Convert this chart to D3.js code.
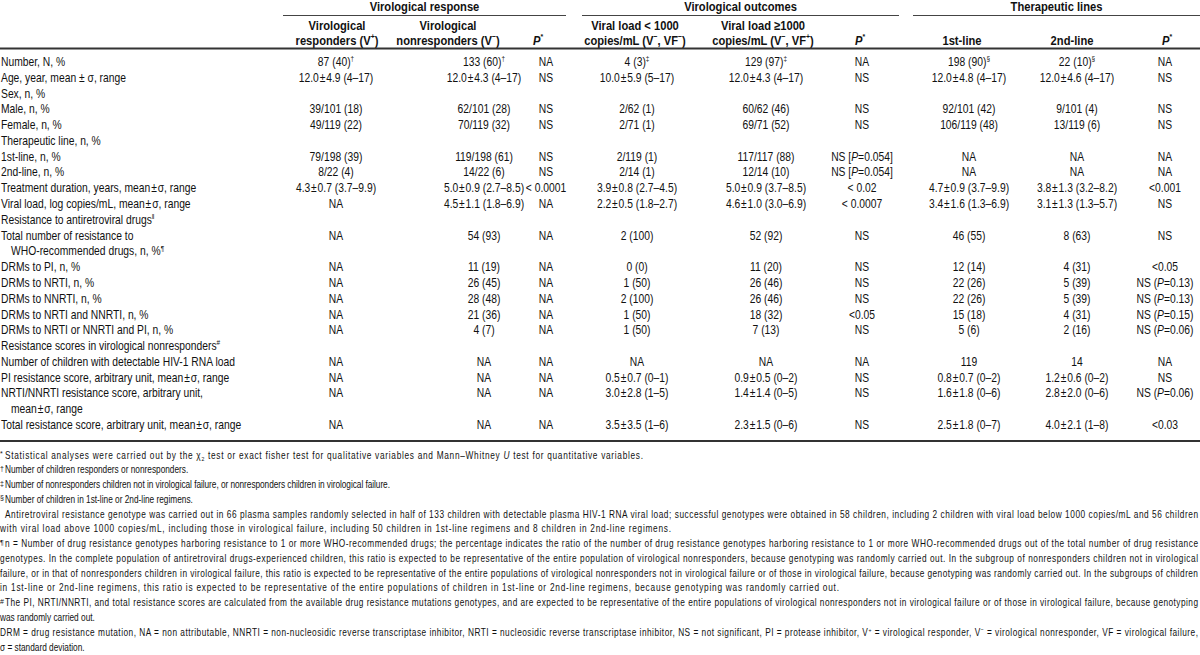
<!DOCTYPE html>
<html>
<head>
<meta charset="utf-8">
<script src="https://cdnjs.cloudflare.com/ajax/libs/d3/7.8.5/d3.min.js"></script>
<style>
body { margin: 0; background: #fff; }
svg { display: block; font-family: 'Liberation Sans', Arial, sans-serif; }
</style>
</head>
<body>
<div id="tbl"></div>
<script>
// table values (null = section heading row)
var rowLabels = [
    'Number, N, %',
    'Age, year, mean ± σ, range',
    'Sex, n, %',
    'Male, n, %',
    'Female, n, %',
    'Therapeutic line, n, %',
    '1st-line, n, %',
    '2nd-line, n, %',
    'Treatment duration, years, mean±σ, range',
    'Viral load, log copies/mL, mean±σ, range',
    'Resistance to antiretroviral drugs^(‖)',
    'Total number of resistance to\nWHO-recommended drugs, n, %^(¶)',
    'DRMs to PI, n, %',
    'DRMs to NRTI, n, %',
    'DRMs to NNRTI, n, %',
    'DRMs to NRTI and NNRTI, n, %',
    'DRMs to NRTI or NNRTI and PI, n, %',
    'Resistance scores in virological nonresponders^(#)',
    'Number of children with detectable HIV-1 RNA load',
    'PI resistance score, arbitrary unit, mean±σ, range',
    'NRTI/NNRTI resistance score, arbitrary unit,\nmean±σ, range',
    'Total resistance score, arbitrary unit, mean±σ, range'];

var respondersV = ['87 (40)^(†)', '12.0±4.9 (4–17)', null, '39/101 (18)', '49/119 (22)', null,
    '79/198 (39)', '8/22 (4)', '4.3±0.7 (3.7–9.9)', 'NA', null, 'NA',
    'NA', 'NA', 'NA', 'NA', 'NA', null, 'NA', 'NA', 'NA', 'NA'];
var nonrespondersV = ['133 (60)^(†)', '12.0±4.3 (4–17)', null, '62/101 (28)', '70/119 (32)', null,
    '119/198 (61)', '14/22 (6)', '5.0±0.9 (2.7–8.5)', '4.5±1.1 (1.8–6.9)', null, '54 (93)',
    '11 (19)', '26 (45)', '28 (48)', '21 (36)', '4 (7)', null, 'NA', 'NA', 'NA', 'NA'];
var pResponse = ['NA', 'NS', null, 'NS', 'NS', null,
    'NS', 'NS', '< 0.0001', 'NA', null, 'NA',
    'NA', 'NA', 'NA', 'NA', 'NA', null, 'NA', 'NA', 'NA', 'NA'];
var vlBelow = ['4 (3)^(‡)', '10.0±5.9 (5–17)', null, '2/62 (1)', '2/71 (1)', null,
    '2/119 (1)', '2/14 (1)', '3.9±0.8 (2.7–4.5)', '2.2±0.5 (1.8–2.7)', null, '2 (100)',
    '0 (0)', '1 (50)', '2 (100)', '1 (50)', '1 (50)', null, 'NA', '0.5±0.7 (0–1)', '3.0±2.8 (1–5)', '3.5±3.5 (1–6)'];
var vlAbove = ['129 (97)^(‡)', '12.0±4.3 (4–17)', null, '60/62 (46)', '69/71 (52)', null,
    '117/117 (88)', '12/14 (10)', '5.0±0.9 (3.7–8.5)', '4.6±1.0 (3.0–6.9)', null, '52 (92)',
    '11 (20)', '26 (46)', '26 (46)', '18 (32)', '7 (13)', null, 'NA', '0.9±0.5 (0–2)', '1.4±1.4 (0–5)', '2.3±1.5 (0–6)'];
var pOutcome = ['NA', 'NS', null, 'NS', 'NS', null,
    'NS [~(P)=0.054]', 'NS [~(P)=0.054]', '< 0.02', '< 0.0007', null, 'NS',
    'NS', 'NS', 'NS', '<0.05', 'NS', null, 'NA', 'NS', 'NS', 'NS'];
var firstLine = ['198 (90)^(§)', '12.0±4.8 (4–17)', null, '92/101 (42)', '106/119 (48)', null,
    'NA', 'NA', '4.7±0.9 (3.7–9.9)', '3.4±1.6 (1.3–6.9)', null, '46 (55)',
    '12 (14)', '22 (26)', '22 (26)', '15 (18)', '5 (6)', null, '119', '0.8±0.7 (0–2)', '1.6±1.8 (0–6)', '2.5±1.8 (0–7)'];
var secondLine = ['22 (10)^(§)', '12.0±4.6 (4–17)', null, '9/101 (4)', '13/119 (6)', null,
    'NA', 'NA', '3.8±1.3 (3.2–8.2)', '3.1±1.3 (1.3–5.7)', null, '8 (63)',
    '4 (31)', '5 (39)', '5 (39)', '4 (31)', '2 (16)', null, '14', '1.2±0.6 (0–2)', '2.8±2.0 (0–6)', '4.0±2.1 (1–8)'];
var pLines = ['NA', 'NS', null, 'NS', 'NS', null,
    'NA', 'NA', '<0.001', 'NS', null, 'NS',
    '<0.05', 'NS (~(P)=0.13)', 'NS (~(P)=0.13)', 'NS (~(P)=0.15)', 'NS (~(P)=0.06)', null, 'NA', 'NS', 'NS (~(P)=0.06)', '<0.03'];

var groupTitles = ['Virological response', 'Virological outcomes', 'Therapeutic lines'];
var colHeads = [
    ['Virological', 'responders (V^(+))'],
    ['Virological', 'nonresponders (V^(−))'],
    ['', '~(P)^(*)'],
    ['Viral load < 1000', 'copies/mL (V^(−), VF^(−))'],
    ['Viral load ≥1000', 'copies/mL (V^(−), VF^(+))'],
    ['', '~(P)^(*)'],
    ['', '1st-line'],
    ['', '2nd-line'],
    ['', '~(P)^(*)']];

// footnotes: mark null = continuation of the line before
var noteMarks = ['*', '†', '‡', '§', ' ', null, '¶', null, null, null, '#', null, '', null];
var noteLines = [
    'Statistical analyses were carried out by the χ_(2) test or exact fisher test for qualitative variables and Mann–Whitney ~(U) test for quantitative variables.',
    'Number of children responders or nonresponders.',
    'Number of nonresponders children not in virological failure, or nonresponders children in virological failure.',
    'Number of children in 1st-line or 2nd-line regimens.',
    'Antiretroviral resistance genotype was carried out in 66 plasma samples randomly selected in half of 133 children with detectable plasma HIV-1 RNA viral load; successful genotypes were obtained in 58 children, including 2 children with viral load below 1000 copies/mL and 56 children',
    'with viral load above 1000 copies/mL, including those in virological failure, including 50 children in 1st-line regimens and 8 children in 2nd-line regimens.',
    'n = Number of drug resistance genotypes harboring resistance to 1 or more WHO-recommended drugs; the percentage indicates the ratio of the number of drug resistance genotypes harboring resistance to 1 or more WHO-recommended drugs out of the total number of drug resistance',
    'genotypes. In the complete population of antiretroviral drugs-experienced children, this ratio is expected to be representative of the entire population of virological nonresponders, because genotyping was randomly carried out. In the subgroup of nonresponders children not in virological',
    'failure, or in that of nonresponders children in virological failure, this ratio is expected to be representative of the entire populations of virological nonresponders not in virological failure or of those in virological failure, because genotyping was randomly carried out. In the subgroups of children',
    'in 1st-line or 2nd-line regimens, this ratio is expected to be representative of the entire populations of children in 1st-line or 2nd-line regimens, because genotyping was randomly carried out.',
    'The PI, NRTI/NNRTI, and total resistance scores are calculated from the available drug resistance mutations genotypes, and are expected to be representative of the entire populations of virological nonresponders not in virological failure or of those in virological failure, because genotyping',
    'was randomly carried out.',
    'DRM = drug resistance mutation, NA = non attributable, NNRTI = non-nucleosidic reverse transcriptase inhibitor, NRTI = nucleosidic reverse transcriptase inhibitor, NS = not significant, PI = protease inhibitor, V^(+) = virological responder, V^(−) = virological nonresponder, VF = virological failure,',
    'σ = standard deviation.'];

var W = 1200, H = 655;
var kBody = 0.86;   // squeeze, the source uses a condensed face
var kNote = 0.83;
var ink = '#111';
// right edge of each footnote line as set in the source (null = natural width)
var noteEnds = [643, null, 390, null, 1198, 671, 1198, 1198, 1198, 839, 1198, null, 1198, null];

var svg = d3.select('#tbl').append('svg')
    .attr('width', W).attr('height', H);

// write a string with ^(sup) _(sub) ~(italic) pieces
function rich(t, str, size) {
    var re = /([\^~_])\(([^)]*)\)/g, pos = 0, cur = 0, m;
    function add(s, off, kind) {
        if (!s) return;
        var sp = t.append('tspan').text(s).attr('dy', off - cur);
        cur = off;
        if (kind === '^' || kind === '_') sp.attr('font-size', size * 0.62);
        if (kind === '~') sp.attr('font-style', 'italic');
    }
    while ((m = re.exec(str))) {
        add(str.slice(pos, m.index), 0);
        var off = m[1] === '^' ? -size * 0.4 : (m[1] === '_' ? size * 0.25 : 0);
        add(m[2], off, m[1]);
        pos = re.lastIndex;
    }
    add(str.slice(pos), 0);
}

function put(x, y, str, opt) {
    opt = opt || {};
    var size = opt.size || 12, k = opt.k || kBody;
    var t = svg.append('text')
        .attr('transform', 'translate(' + x + ',' + y + ') scale(' + k + ',1)')
        .attr('text-anchor', opt.anchor || 'start')
        .attr('font-size', size)
        .attr('font-weight', opt.bold ? 'bold' : null)
        .attr('fill', ink);
    rich(t, str.replace(/(\S)±(\S)/g, '$1\u200a±\u200a$2'), size);
    if (opt.width) t.attr('textLength', opt.width / k).attr('lengthAdjust', 'spacing');
    return t;
}

var colKeys = ['vpos', 'vneg', 'p1', 'vl1', 'vl2', 'p2', 'l1', 'l2', 'p3'];
var cols = [respondersV, nonrespondersV, pResponse, vlBelow, vlAbove, pOutcome, firstLine, secondLine, pLines];
var x = d3.scaleOrdinal().domain(colKeys).range([336, 484, 546, 637, 766, 862, 969, 1077, 1165]);
var xHead = d3.scaleOrdinal().domain(colKeys).range([337, 448, 538, 635, 763, 860, 962, 1072, 1167]);

var lineStart = [], nLines = 0;
rowLabels.forEach(function(l) { lineStart.push(nLines); nLines += l.split('\n').length; });
var y = d3.scaleLinear().domain([0, nLines - 1]).range([62, 425]);

// header
var groupSpan = d3.scaleOrdinal().domain(groupTitles).range([[283, 566], [582, 899], [913, 1200]]);
groupTitles.forEach(function(g) {
    var s = groupSpan(g);
    put((s[0] + s[1]) / 2, 10.5, g, {bold: true, size: 13, anchor: 'middle'});
    svg.append('line').attr('x1', s[0]).attr('x2', s[1]).attr('y1', 15.5).attr('y2', 15.5)
        .attr('stroke', '#444').attr('stroke-width', 1.2);
});
colHeads.forEach(function(h, i) {
    h.forEach(function(line, j) {
        if (line) put(xHead(colKeys[i]), 29.5 + j * 15, line, {bold: true, size: 13, anchor: 'middle'});
    });
});
svg.append('line').attr('x1', 0).attr('x2', W).attr('y1', 48.5).attr('y2', 48.5)
    .attr('stroke', '#333').attr('stroke-width', 2);

// body
rowLabels.forEach(function(label, r) {
    label.split('\n').forEach(function(part, j) {
        put(j ? 11 : 1, y(lineStart[r] + j) + 4, part);
    });
    cols.forEach(function(c, ci) {
        if (c[r] != null) put(x(colKeys[ci]), y(lineStart[r]) + 4, c[r], {anchor: 'middle'});
    });
});
svg.append('line').attr('x1', 0).attr('x2', W).attr('y1', 441).attr('y2', 441)
    .attr('stroke', '#333').attr('stroke-width', 2);

// footnotes
var fy = d3.scaleLinear().domain([0, noteLines.length - 1]).range([455, 647]);
noteLines.forEach(function(txt, i) {
    var mark = noteMarks[i];
    var x0 = (mark === null || mark === '') ? 0 : 5;
    if (mark && mark.trim()) put(0, fy(i) + 1, mark, {size: 7, k: 1});
    var end = noteEnds[i];
    put(x0, fy(i) + 3.5, txt, {size: 10, k: kNote, width: end ? end - x0 : null});
});
</script>
</body>
</html>
